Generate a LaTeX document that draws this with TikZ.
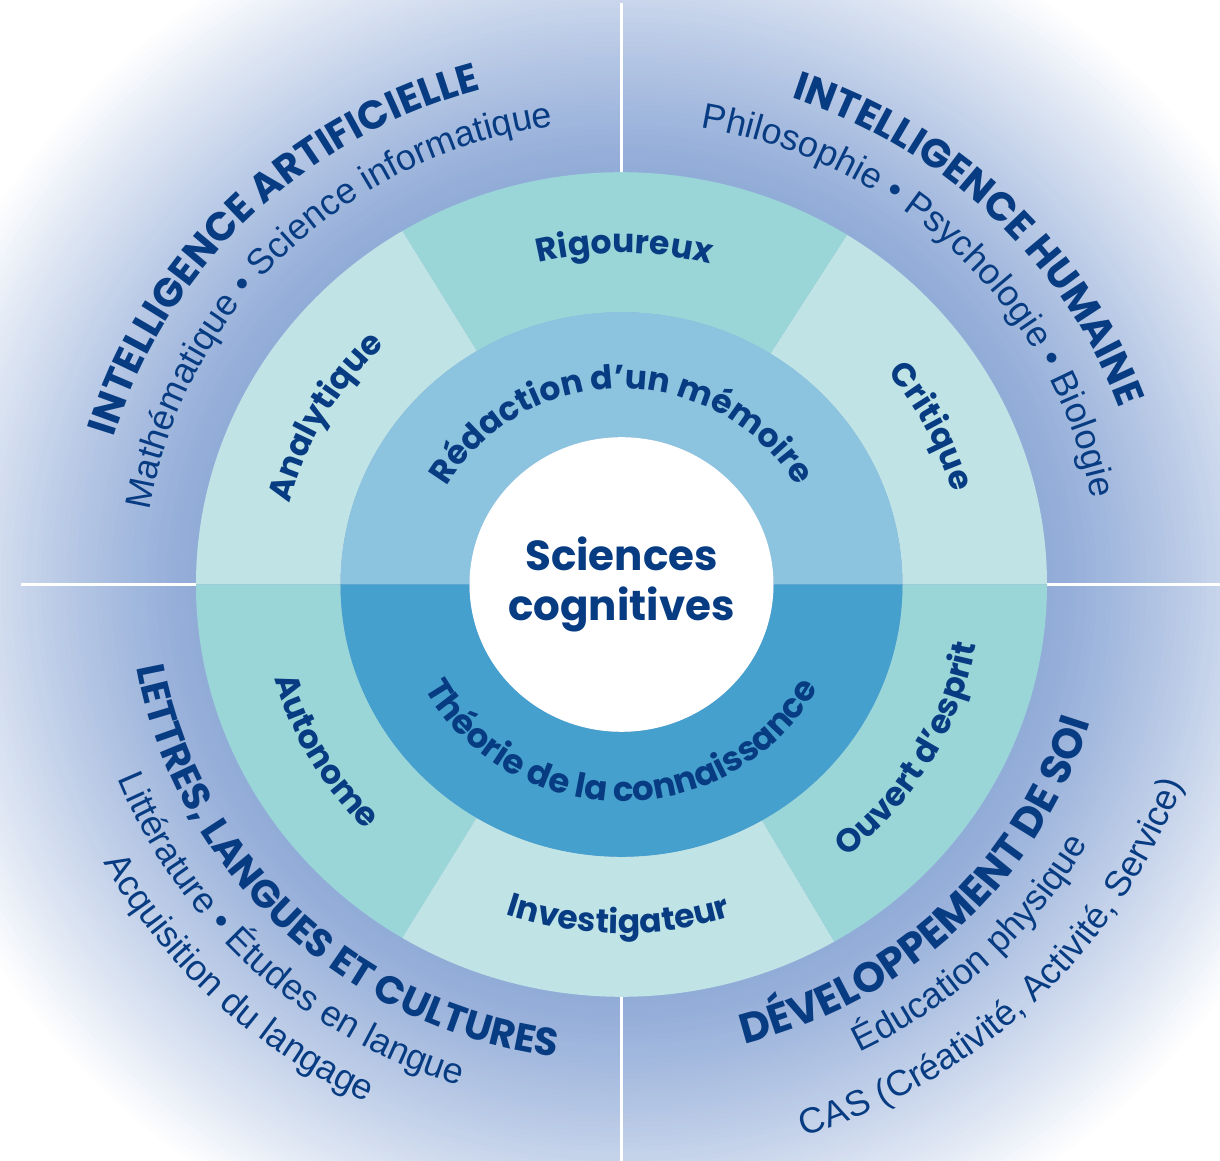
\documentclass[tikz,border=0pt]{standalone}
\usepackage{fontspec}
\usetikzlibrary{decorations.text}
\newfontfamily\popfont{Poppins}
\newfontfamily\thinfont{Liberation Sans}

\definecolor{navy}{RGB}{8,60,130}
\definecolor{teallight}{RGB}{192,228,229}
\definecolor{tealdark}{RGB}{154,214,216}
\definecolor{blueup}{RGB}{140,195,222}
\definecolor{bluedown}{RGB}{70,160,206}
\definecolor{bgdeep}{RGB}{146,172,216}

\begin{document}
\begin{tikzpicture}[x={(1pt,0pt)},y={(0pt,0.969pt)}]
  \def\rcore{152}
  \def\rmid{281}
  \def\rout{425.5}
  \def\ringfont{\popfont\bfseries\fontsize{33}{36}\selectfont}
  \def\headfont{\popfont\bfseries\fontsize{40}{44}\selectfont}
  \def\subjfont{\thinfont\fontsize{36}{40}\selectfont}
  % text on an arc: centre angle, baseline radius, text
  \def\cwtext#1#2#3{\path[decorate,decoration={text along path,text align=center,
      text color=navy,text={#3}}] (#1+75:#2) arc[start angle=#1+75,end angle=#1-75,radius=#2];}
  \def\ccwtext#1#2#3{\path[decorate,decoration={text along path,text align=center,
      text color=navy,text={#3}}] (#1-75:#2) arc[start angle=#1-75,end angle=#1+75,radius=#2];}

  \useasboundingbox (-621.5,-594.9) rectangle (598.5,603.2);
  \clip (-621.5,-594.9) rectangle (598.5,603.2);
  \fill[white] (-621.5,-594.9) rectangle (598.5,603.2);
  % blue glow fading to white
  \foreach \r in {750,745,...,430}{
    \pgfmathsetmacro\w{100*min(1,((\r-429)/311)^1.2)}
    \fill[white!\w!bgdeep] (0,0) circle [radius=\r];
  }

  \foreach \a in {0,90,180,270}
    \draw[white,line width=3pt] (\a:\rout) -- (\a:600);

  % outer ring: six qualities
  \foreach \a/\b/\c in {0/58/teallight,58/121/tealdark,121/180/teallight,
                        180/239/tealdark,239/300/teallight,300/360/tealdark}
    \fill[\c] (\a:\rmid) arc[start angle=\a,end angle=\b,radius=\rmid]
      -- (\b:\rout) arc[start angle=\b,end angle=\a,radius=\rout] -- cycle;

  % core ring
  \fill[blueup] (0:\rcore) arc[start angle=0,end angle=180,radius=\rcore]
    -- (180:\rmid) arc[start angle=180,end angle=0,radius=\rmid] -- cycle;
  \fill[bluedown] (0:\rcore) arc[start angle=0,end angle=-180,radius=\rcore]
    -- (180:\rmid) arc[start angle=-180,end angle=0,radius=\rmid] -- cycle;
  \fill[white] (0,0) circle [radius=\rcore];

  \node[text=navy,align=center,font=\popfont\bfseries\fontsize{42}{50}\selectfont]
    (centre) at (0,0) {Sciences\\cognitives};

  \cwtext{90}{202}{|\ringfont|Rédaction d’un mémoire}
  \ccwtext{-90}{224}{|\popfont\bfseries\fontsize{34}{36}\selectfont|Théorie de la connaissance}

  \cwtext{89.5}{342}{|\ringfont|Rigoureux}
  \cwtext{150.5}{342}{|\ringfont|Analytique}
  \cwtext{27}{344}{|\ringfont|Critique}
  \ccwtext{-150.5}{360}{|\ringfont|Autonome}
  \ccwtext{-90.5}{360}{|\ringfont|Investigateur}
  \ccwtext{-30}{360}{|\ringfont|Ouvert d’esprit}

  \cwtext{135}{530}{|\headfont|INTELLIGENCE ARTIFICIELLE}
  \cwtext{135}{478}{|\subjfont|Mathématique • Science informatique}
  \cwtext{45}{530}{|\headfont|INTELLIGENCE HUMAINE}
  \cwtext{45}{478}{|\subjfont|Philosophie • Psychologie • Biologie}

  \ccwtext{-134.3}{492}{|\popfont\bfseries\fontsize{39}{44}\selectfont|LETTRES, LANGUES ET CULTURES}
  \ccwtext{-133.5}{542}{|\subjfont|Littérature • Études en langue}
  \ccwtext{-134}{592}{|\subjfont|Acquisition du langage}
  \ccwtext{-45.5}{490}{|\popfont\bfseries\fontsize{42}{46}\selectfont|DÉVELOPPEMENT DE SOI}
  \ccwtext{-46}{538}{|\subjfont|Éducation physique}
  \ccwtext{-45.5}{598}{|\subjfont|CAS (Créativité, Activité, Service)}
\end{tikzpicture}
\end{document}
